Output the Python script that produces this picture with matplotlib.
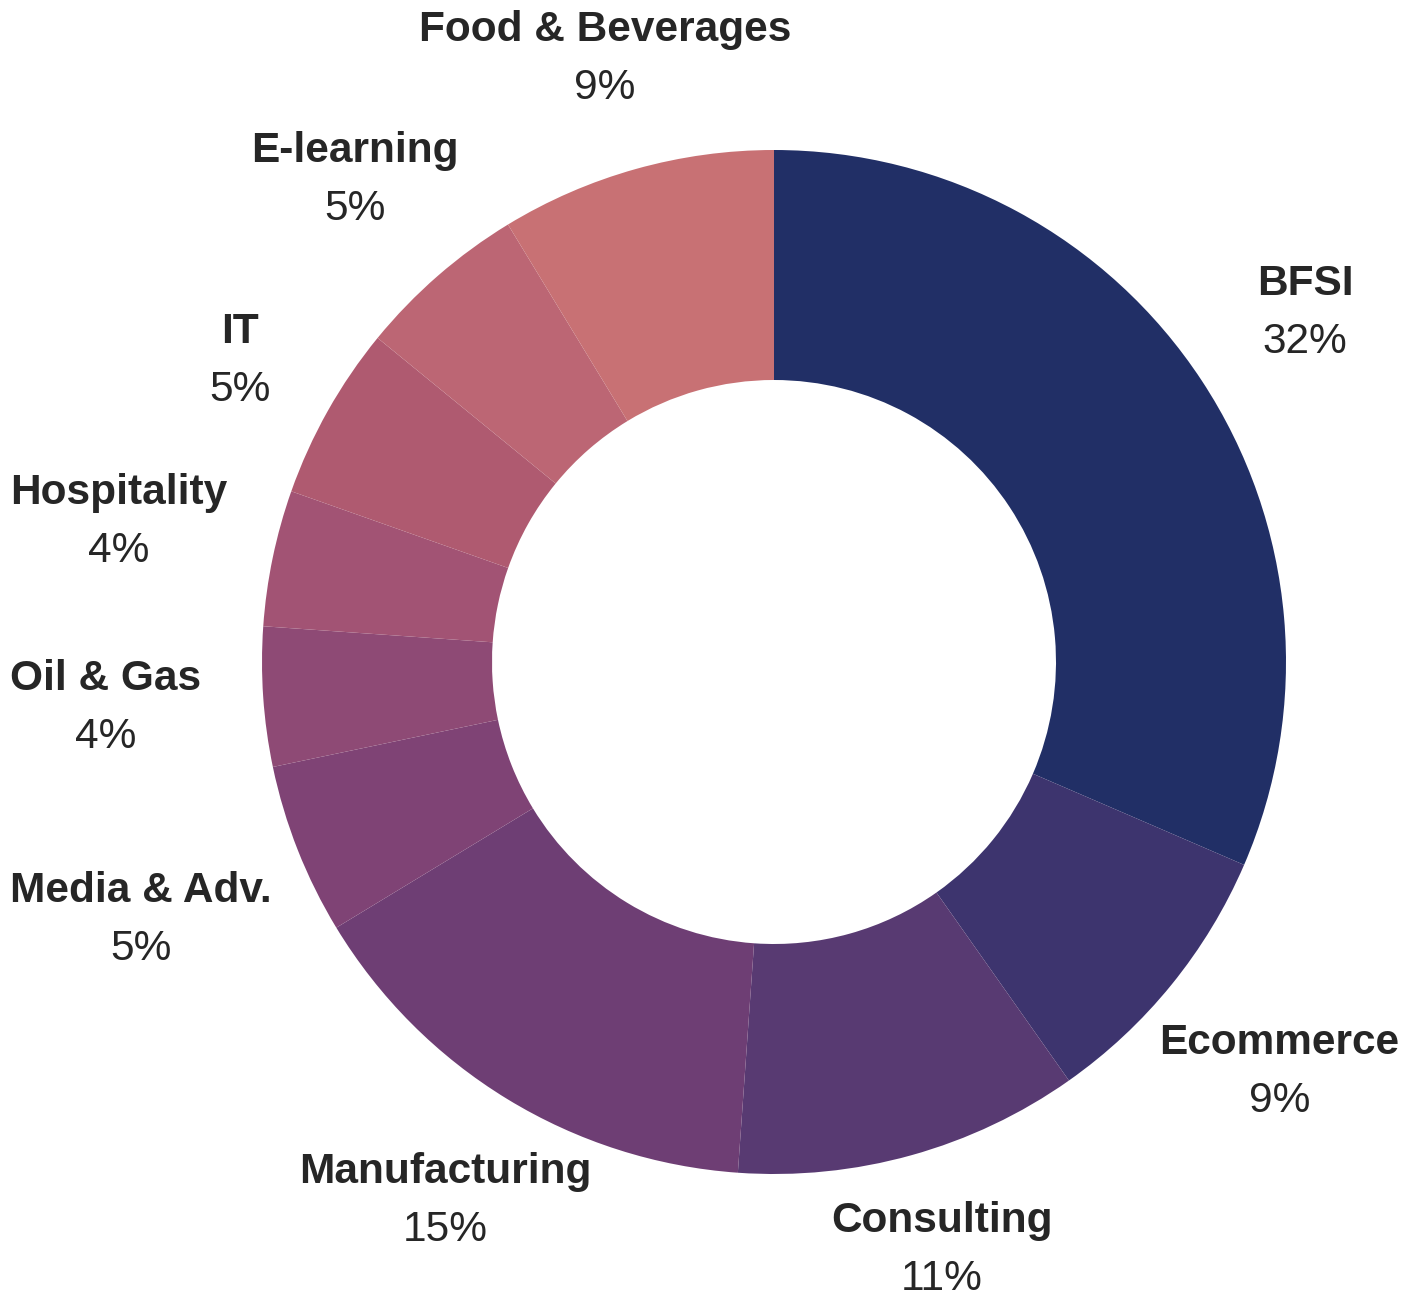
import matplotlib
matplotlib.use('agg')
import matplotlib.pyplot as plt
import numpy as np

# sector shares (percent of clients)
sectors = ['BFSI', 'Ecommerce', 'Consulting', 'Manufacturing', 'Media & Adv.',
           'Oil & Gas', 'Hospitality', 'IT', 'E-learning', 'Food & Beverages']
shares = [31.5, 8.75, 10.9, 15.2, 5.4, 4.4, 4.3, 5.5, 5.4, 8.7]
pct_labels = ['32%', '9%', '11%', '15%', '5%', '4%', '4%', '5%', '5%', '9%']
colors = ['#212F66', '#3D346E', '#583A72', '#6E3E74', '#7F4375',
          '#8E4A75', '#A25374', '#AF5A70', '#BC6674', '#C87174']

plt.rcParams['font.family'] = ['Liberation Sans', 'DejaVu Sans']
txt_color = '#262626'

W, H = 1416, 1301
fig = plt.figure(figsize=(W / 100, H / 100), dpi=100)
ax = fig.add_axes([0, 0, 1, 1])

cx, cy = 774, 639
R_out, R_in = 512, 282
wedges, _ = ax.pie(shares, colors=colors, startangle=90, counterclock=False,
                   center=(cx, cy), radius=R_out,
                   wedgeprops=dict(width=R_out - R_in, linewidth=0))
ax.set_xlim(0, W)
ax.set_ylim(0, H)
ax.axis('off')

#### labels outside the ring, pushed out by the text box, kept inside the figure ####
renderer = fig.canvas.get_renderer()
r_base = 578
half_h = 46
for w, name, pct in zip(wedges, sectors, pct_labels):
    ang = np.deg2rad((w.theta1 + w.theta2) / 2)
    t1 = ax.text(0, 0, name, fontsize=30.5, fontweight='bold', ha='center',
                 va='center', color=txt_color)
    t2 = ax.text(0, 0, pct, fontsize=30.5, ha='center', va='center',
                 color=txt_color)
    half_w = max(t1.get_window_extent(renderer).width,
                 t2.get_window_extent(renderer).width) / 2
    c, s = abs(np.cos(ang)), abs(np.sin(ang))
    d = min(half_w / c if c > 1e-6 else 1e9, half_h / s if s > 1e-6 else 1e9)
    r = r_base + d
    x = cx + r * np.cos(ang)
    y = cy + r * np.sin(ang)
    x = min(max(x, half_w + 10), W - half_w - 10)
    y = min(max(y, half_h + 5), H - half_h - 5)
    t1.set_position((x, y + 29))
    t2.set_position((x, y - 29))

fig.savefig('out.png', dpi=100, facecolor='white')
plt.close('all')
